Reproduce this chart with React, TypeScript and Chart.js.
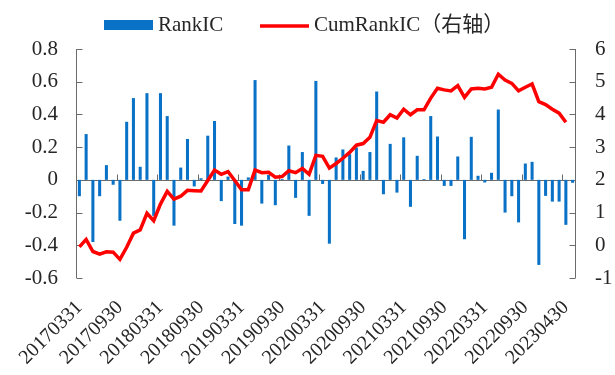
import React, { useEffect, useRef } from "react";
import { Chart, registerables } from "chart.js";

Chart.register(...registerables);

// Month-end dates (one month is absent in the source series, so index 72 is 20230430)
const dates: string[] = [
  "20170331","20170428","20170531","20170630","20170731","20170831",
  "20170930","20171031","20171130","20171229","20180131","20180228",
  "20180331","20180427","20180531","20180629","20180731","20180831",
  "20180930","20181031","20181130","20181228","20190131","20190228",
  "20190331","20190430","20190531","20190628","20190731","20190830",
  "20190930","20191031","20191129","20191231","20200123","20200228",
  "20200331","20200430","20200529","20200630","20200731","20200831",
  "20200930","20201030","20201130","20201231","20210129","20210226",
  "20210331","20210430","20210531","20210630","20210730","20210831",
  "20210930","20211029","20211130","20211231","20220128","20220228",
  "20220331","20220429","20220531","20220630","20220729","20220831",
  "20220930","20221031","20221130","20221230","20230131","20230331",
  "20230430","20230531",
];

const rankIC: number[] = [
  -0.10, 0.28, -0.38, -0.10, 0.09, -0.03, -0.25, 0.355, 0.50, 0.08,
  0.53, -0.22, 0.53, 0.39, -0.28, 0.075, 0.25, -0.04, 0.01, 0.27,
  0.36, -0.13, 0.02, -0.27, -0.28, 0.015, 0.61, -0.145, 0.03, -0.155,
  0.005, 0.21, -0.11, 0.17, -0.22, 0.605, -0.025, -0.39, 0.137, 0.186,
  0.157, 0.198, 0.055, 0.17, 0.54, -0.088, 0.22, -0.078, 0.26, -0.165,
  0.147, 0.005, 0.39, 0.265, -0.037, -0.037, 0.143, -0.363, 0.263, 0.025,
  -0.016, 0.043, 0.43, -0.20, -0.10, -0.26, 0.10, 0.11, -0.52, -0.098,
  -0.133, -0.133, -0.275, -0.018,
];

const cumRankIC: (number | null)[] = [
  -0.05, 0.18, -0.19, -0.27, -0.20, -0.21, -0.43, -0.06, 0.37, 0.47,
  0.98, 0.75, 1.26, 1.65, 1.41, 1.50, 1.68, 1.67, 1.66, 1.98,
  2.30, 2.17, 2.25, 1.98, 1.70, 1.70, 2.30, 2.22, 2.23, 2.08,
  2.10, 2.28, 2.22, 2.35, 2.17, 2.75, 2.72, 2.36, 2.50, 2.66,
  2.84, 3.06, 3.11, 3.30, 3.81, 3.76, 3.99, 3.89, 4.16, 3.99,
  4.14, 4.14, 4.50, 4.80, 4.75, 4.72, 4.88, 4.52, 4.78, 4.80,
  4.78, 4.83, 5.23, 5.05, 4.95, 4.72, 4.83, 4.93, 4.39, 4.30,
  4.16, 4.04, 3.76, null,
];

const legendLabels = ["RankIC", "CumRankIC（右轴）"];

const BAR_COLOR = "#0a72c6";
const LINE_COLOR = "#ff0000";
const AXIS_COLOR = "#6b6b6b";
const TEXT_COLOR = "#262626";
const FONT_FAMILY = "'Liberation Serif', 'Noto Sans CJK SC', serif";

const axesPlugin = {
  id: "customAxes",
  beforeDatasetsDraw(chart: any) {
    const { ctx, chartArea } = chart;
    const { left, right, top, bottom } = chartArea;
    const x = chart.scales.x;
    const y = chart.scales.y;
    const y1 = chart.scales.y1;
    const L = Math.round(left) + 0.5;
    const R = Math.round(right) - 0.5;
    ctx.save();
    ctx.strokeStyle = AXIS_COLOR;
    ctx.lineWidth = 1;
    const seg = (x0: number, y0: number, x1: number, y2: number) => {
      ctx.beginPath();
      ctx.moveTo(x0, y0);
      ctx.lineTo(x1, y2);
      ctx.stroke();
    };
    seg(L, top, L, bottom);
    y.ticks.forEach((t: any) => {
      const py = Math.round(y.getPixelForValue(t.value)) + 0.5;
      seg(L, py, L + 6, py);
    });
    seg(R, top, R, bottom);
    y1.ticks.forEach((t: any) => {
      const py = Math.round(y1.getPixelForValue(t.value)) + 0.5;
      seg(R - 6, py, R, py);
    });
    const zy = Math.round(y.getPixelForValue(0)) + 0.5;
    seg(left, zy, right, zy);
    for (let i = 6; i < dates.length; i += 6) {
      const px = Math.round(x.getPixelForValue(i - 0.5)) + 0.5;
      seg(px, zy, px, zy - 6);
    }
    ctx.restore();
  },
  afterDraw(chart: any) {
    const { ctx } = chart;
    ctx.save();
    ctx.font = `21px ${FONT_FAMILY}`;
    ctx.fillStyle = TEXT_COLOR;
    ctx.textBaseline = "middle";
    ctx.textAlign = "left";
    const cy = 25;
    ctx.fillStyle = BAR_COLOR;
    ctx.fillRect(104, cy - 5, 49, 10);
    ctx.fillStyle = TEXT_COLOR;
    ctx.fillText(legendLabels[0], 158, cy);
    ctx.strokeStyle = LINE_COLOR;
    ctx.lineWidth = 3.5;
    ctx.beginPath();
    ctx.moveTo(260, cy + 1);
    ctx.lineTo(309, cy + 1);
    ctx.stroke();
    ctx.fillText(legendLabels[1], 314, cy);
    ctx.restore();
  },
};

export default function App() {
  const ref = useRef<HTMLCanvasElement | null>(null);
  useEffect(() => {
    document.body.style.margin = "0";
    if (!ref.current) return;
    const chart = new Chart(ref.current, {
      type: "bar",
      data: {
        labels: dates,
        datasets: [
          {
            type: "line",
            label: legendLabels[1],
            data: cumRankIC,
            yAxisID: "y1",
            borderColor: LINE_COLOR,
            borderWidth: 3.5,
            pointRadius: 0,
            tension: 0,
            order: 0,
          } as any,
          {
            type: "bar",
            label: legendLabels[0],
            data: rankIC,
            yAxisID: "y",
            backgroundColor: BAR_COLOR,
            barPercentage: 0.45,
            categoryPercentage: 1,
            order: 1,
          },
        ],
      },
      options: {
        responsive: false,
        animation: false,
        layout: { padding: { top: 49, left: 0, right: 0, bottom: 0 } },
        plugins: { legend: { display: false }, tooltip: { enabled: false } },
        scales: {
          x: {
            type: "category",
            offset: true,
            grid: { display: false, drawTicks: false },
            border: { display: false },
            ticks: {
              autoSkip: false,
              maxRotation: 45,
              minRotation: 45,
              padding: 18,
              color: TEXT_COLOR,
              font: { family: FONT_FAMILY, size: 20 },
              callback: (_v: any, i: number) => (i % 6 === 0 ? dates[i] : ""),
            },
            afterFit: (s: any) => {
              s.height = 97;
            },
          },
          y: {
            position: "left",
            min: -0.6,
            max: 0.8,
            grid: { display: false, drawTicks: false },
            border: { display: false },
            ticks: {
              stepSize: 0.2,
              padding: 18,
              color: TEXT_COLOR,
              font: { family: FONT_FAMILY, size: 21 },
              callback: (v: any) => String(Number(Number(v).toFixed(1))),
            },
            afterFit: (s: any) => {
              s.width = 76;
            },
          },
          y1: {
            position: "right",
            min: -1,
            max: 6,
            grid: { display: false, drawTicks: false },
            border: { display: false },
            ticks: {
              stepSize: 1,
              padding: 19,
              color: TEXT_COLOR,
              font: { family: FONT_FAMILY, size: 21 },
            },
            afterFit: (s: any) => {
              s.width = 39;
            },
          },
        },
      },
      plugins: [axesPlugin],
    });
    return () => chart.destroy();
  }, []);
  return <canvas ref={ref} width={615} height={375} style={{ display: "block" }} />;
}
